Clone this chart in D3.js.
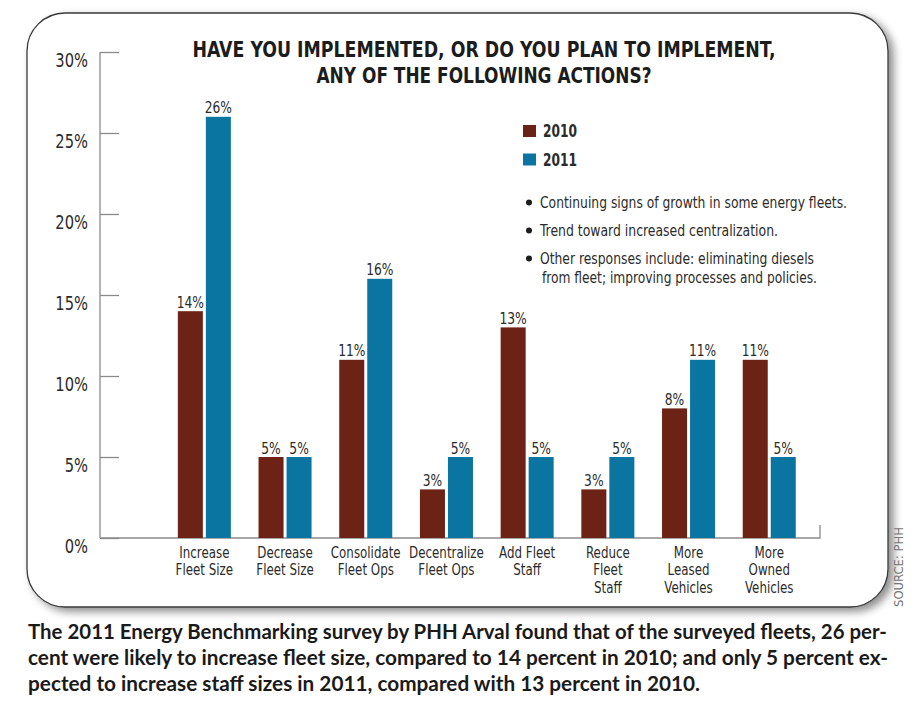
<!DOCTYPE html>
<html>
<head>
<meta charset="utf-8">
<script src="https://cdn.jsdelivr.net/npm/d3@7"></script>
<style>
  html, body { margin: 0; padding: 0; background: #fff; }
  svg { display: block; }
  .narrow { font-family: "Liberation Sans Narrow", "DejaVu Sans Condensed", "Roboto Condensed", sans-serif; font-stretch: condensed; }
</style>
</head>
<body>
<svg id="chart" width="920" height="708"></svg>
<script>
// data
const categories = [
  ["Increase", "Fleet Size"],
  ["Decrease", "Fleet Size"],
  ["Consolidate", "Fleet Ops"],
  ["Decentralize", "Fleet Ops"],
  ["Add Fleet", "Staff"],
  ["Reduce", "Fleet", "Staff"],
  ["More", "Leased", "Vehicles"],
  ["More", "Owned", "Vehicles"]
]
const years = ["2010", "2011"]
const values2010 = [14, 5, 11, 3, 13, 3, 8, 11]
const values2011 = [26, 5, 16, 5, 5, 5, 11, 5]
const yTicks = [0, 5, 10, 15, 20, 25, 30]
const titleLines = ["HAVE YOU IMPLEMENTED, OR DO YOU PLAN TO IMPLEMENT,", "ANY OF THE FOLLOWING ACTIONS?"]
const notes = [
  ["Continuing signs of growth in some energy fleets."],
  ["Trend toward increased centralization."],
  ["Other responses include: eliminating diesels", "from fleet; improving processes and policies."]
]
const captionLines = [
  "The 2011 Energy Benchmarking survey by PHH Arval found that of the surveyed fleets, 26 per-",
  "cent were likely to increase fleet size, compared to 14 percent in 2010; and only 5 percent ex-",
  "pected to increase staff sizes in 2011, compared with 13 percent in 2010."
]

const colors = { "2010": "#6c2315", "2011": "#0a75a0" }
const axisColor = "#8a8a8a"
const textColor = "#2b2b2b"

const svg = d3.select("#chart")
const keys = categories.map(c => c.join(" "))
const rows = keys.map((k, i) => ({ key: k, lines: categories[i], "2010": values2010[i], "2011": values2011[i] }))

// Frame with shadow
const defs = svg.append("defs")
const shadow = defs.append("filter").attr("id", "shadow")
  .attr("x", "-5%").attr("y", "-5%").attr("width", "115%").attr("height", "115%")
shadow.append("feDropShadow")
  .attr("dx", 5).attr("dy", 4).attr("stdDeviation", 4)
  .attr("flood-color", "#000").attr("flood-opacity", 0.45)

svg.append("rect")
  .attr("x", 27).attr("y", 13)
  .attr("width", 861).attr("height", 594)
  .attr("rx", 38).attr("ry", 38)
  .attr("fill", "#fff")
  .attr("stroke", "#3a3a3a")
  .attr("stroke-width", 1.3)
  .attr("filter", "url(#shadow)")

// Scales
const x0 = d3.scaleBand().domain(keys).range([164, 809.6]).paddingInner(0.343).paddingOuter(0.1715)
const x1 = d3.scaleBand().domain(years).range([0, x0.bandwidth()]).paddingInner(0.107)
const y = d3.scaleLinear().domain([0, 30]).range([538, 52])

// Y axis
const yAxis = svg.append("g")
  .attr("transform", "translate(100,0)")
  .call(d3.axisLeft(y).tickValues(yTicks).tickSize(-19).tickSizeOuter(0).tickPadding(12).tickFormat(d => d + "%"))
yAxis.selectAll("path, line").attr("stroke", axisColor).attr("stroke-width", 1.3)
yAxis.selectAll("text")
  .attr("class", "narrow")
  .attr("x", 0).attr("dy", 0).attr("y", 0)
  .attr("transform", "translate(-12,14) scale(0.86,1)")
  .attr("font-size", 19)
  .attr("fill", textColor)
yAxis.select(".domain").attr("d", `M0,${y(30)}V${y(0)}`)

// Baseline with end tick
svg.append("path")
  .attr("d", `M100,${y(0)}H820V${y(0) - 13}`)
  .attr("fill", "none")
  .attr("stroke", axisColor)
  .attr("stroke-width", 1.3)

// Bars
const groups = svg.append("g").selectAll("g")
  .data(rows)
  .join("g")
  .attr("transform", d => `translate(${x0(d.key)},0)`)

groups.selectAll("rect")
  .data(d => years.map(yr => ({ yr, v: d[yr] })))
  .join("rect")
  .attr("x", d => x1(d.yr))
  .attr("y", d => y(d.v))
  .attr("width", x1.bandwidth())
  .attr("height", d => y(0) - y(d.v))
  .attr("fill", d => colors[d.yr])

groups.selectAll("text")
  .data(d => years.map(yr => ({ yr, v: d[yr] })))
  .join("text")
  .attr("class", "narrow")
  .attr("transform", d => `translate(${x1(d.yr) + x1.bandwidth() / 2},${y(d.v) - 3.5}) scale(0.88,1)`)
  .attr("text-anchor", "middle")
  .attr("font-size", 15.5)
  .attr("fill", textColor)
  .text(d => d.v + "%")

// X axis labels
const xAxis = svg.append("g")
  .attr("transform", `translate(0,${y(0)})`)
  .call(d3.axisBottom(x0).tickSize(0).tickFormat(""))
xAxis.select(".domain").remove()
xAxis.selectAll(".tick").append("text")
  .attr("class", "narrow")
  .attr("text-anchor", "middle")
  .attr("font-size", 15)
  .attr("fill", textColor)
  .attr("transform", "scale(0.88,1)")
  .selectAll("tspan")
  .data(k => categories[keys.indexOf(k)])
  .join("tspan")
  .attr("x", 0)
  .attr("y", (d, i) => 20 + i * 17.3)
  .text(d => d)

// Title
svg.append("g").selectAll("text")
  .data(titleLines)
  .join("text")
  .attr("class", "narrow")
  .attr("x", 484)
  .attr("y", (d, i) => 56.5 + i * 26)
  .attr("text-anchor", "middle")
  .attr("font-size", 21.5)
  .attr("font-weight", "bold")
  .attr("fill", "#1c1c1c")
  .attr("textLength", (d, i) => [583, 335][i])
  .attr("lengthAdjust", "spacingAndGlyphs")
  .text(d => d)

// Legend
const legend = svg.append("g").selectAll("g")
  .data(years)
  .join("g")
  .attr("transform", (d, i) => `translate(523,${125 + i * 28.5})`)
legend.append("rect")
  .attr("width", 13).attr("height", 12)
  .attr("fill", d => colors[d])
legend.append("text")
  .attr("class", "narrow")
  .attr("transform", "translate(20,12) scale(0.8,1)")
  .attr("font-size", 17)
  .attr("font-weight", "bold")
  .attr("fill", textColor)
  .text(d => d)

// Notes
const noteLengths = [[307], [238], [274, 275]]
const noteY = [208, 236, 264]
notes.forEach((lines, i) => {
  svg.append("circle")
    .attr("cx", 529).attr("cy", noteY[i] - 5.5).attr("r", 3)
    .attr("fill", "#1c1c1c")
  lines.forEach((line, j) => {
    svg.append("text")
      .attr("class", "narrow")
      .attr("x", 540 + j * 2)
      .attr("y", noteY[i] + j * 19)
      .attr("font-size", 16)
      .attr("fill", textColor)
      .attr("textLength", noteLengths[i][j])
      .attr("lengthAdjust", "spacingAndGlyphs")
      .text(line)
  })
})

// Source
svg.append("text")
  .attr("class", "narrow")
  .attr("transform", "translate(903,607) rotate(-90)")
  .attr("font-size", 13)
  .attr("fill", "#777")
  .attr("textLength", 80)
  .attr("lengthAdjust", "spacingAndGlyphs")
  .text("SOURCE: PHH")

// Caption
svg.append("g").selectAll("text")
  .data(captionLines)
  .join("text")
  .attr("x", 28)
  .attr("y", (d, i) => 639 + i * 26)
  .attr("font-family", "Lato, 'Noto Sans', sans-serif")
  .attr("font-size", 20)
  .attr("font-weight", "bold")
  .attr("fill", "#1a1a1a")
  .attr("textLength", (d, i) => [859, 860, 672][i])
  .attr("lengthAdjust", "spacingAndGlyphs")
  .text(d => d)
</script>
</body>
</html>
